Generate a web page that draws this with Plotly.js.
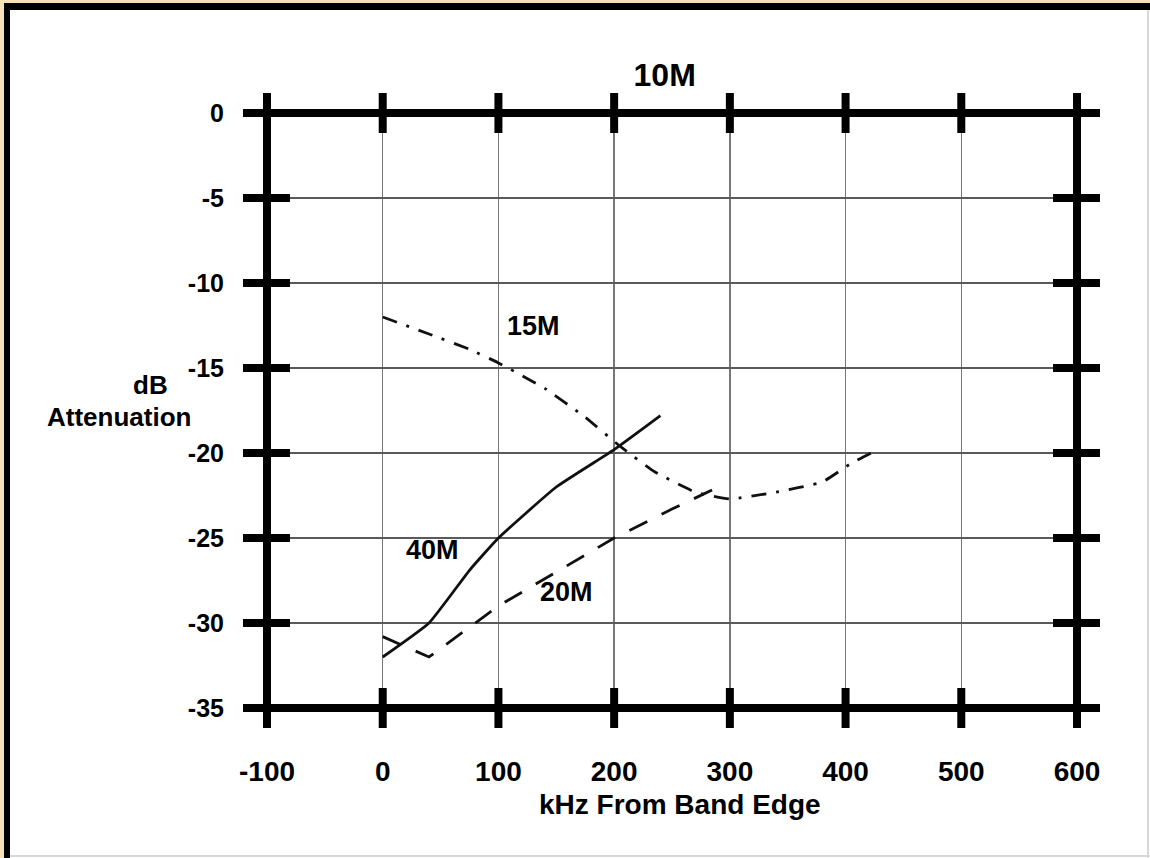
<!DOCTYPE html>
<html>
<head>
<meta charset="utf-8">
<script src="https://cdn.plot.ly/plotly-3.0.1.min.js"></script>
<style>
  html, body { margin: 0; padding: 0; background: #ffffff; }
  #wrap { position: relative; width: 1150px; height: 858px; overflow: hidden; }
  #chart { position: absolute; left: 0; top: 0; width: 1150px; height: 858px; }
  .deco { position: absolute; pointer-events: none; }
</style>
</head>
<body>
<div id="wrap">
  <div id="chart"></div>
  <div class="deco" style="left:0;top:0;width:1150px;height:3px;background:#f6e2b4;"></div>
  <div class="deco" style="left:0;top:0;width:4px;height:858px;background:#f6e2b4;"></div>
  <div class="deco" style="left:4px;top:3px;width:1146px;height:7px;background:#000;"></div>
  <div class="deco" style="left:4px;top:3px;width:6px;height:855px;background:#000;"></div>
  <div class="deco" style="left:1147px;top:10px;width:2px;height:848px;background:#d8d8d8;"></div>
  <div class="deco" style="left:10px;top:855px;width:1140px;height:2px;background:#d8d8d8;"></div>
</div>
<script>
// ---- data ----
const xTicks = [-100, 0, 100, 200, 300, 400, 500, 600];
const yTicks = [0, -5, -10, -15, -20, -25, -30, -35];
const xRange = [-100, 600];
const yRange = [-35, 0];

const x40 = [0, 40, 75, 100, 150, 200, 240];
const y40 = [-32, -30, -26.9, -25, -22, -19.8, -17.8];

const x20 = [0, 40, 100, 150, 200, 250, 287];
const y20 = [-30.8, -32, -29, -27, -25, -23.3, -22.1];

const x15 = [0, 40, 75, 100, 140, 175, 205, 235, 270, 300, 340, 380, 405, 425];
const y15 = [-12, -13, -13.9, -14.7, -16.2, -17.9, -19.6, -21.1, -22.3, -22.7, -22.3, -21.7, -20.6, -19.9];

const seriesLabels = [
  {text: '15M', x: 130, y: -12.5},
  {text: '40M', x: 43, y: -25.7},
  {text: '20M', x: 159, y: -28.2}
];

const FONT = 'Liberation Sans, Arial, sans-serif';

const traces = [
  {x: x40, y: y40, mode: 'lines', name: '40M', line: {color: '#111', width: 2.8, shape: 'spline', smoothing: 0.4}},
  {x: x20, y: y20, mode: 'lines', name: '20M', line: {color: '#111', width: 2.8, dash: '20px,16px'}},
  {x: x15, y: y15, mode: 'lines', name: '15M', line: {color: '#111', width: 2.8, dash: '15px,10px,3px,10px', shape: 'spline', smoothing: 0.4}}
];

// ---- frame & tick decorations built from the tick arrays (paper refs so they are not clipped) ----
const px = v => (v - xRange[0]) / (xRange[1] - xRange[0]);
const py = v => (v - yRange[0]) / (yRange[1] - yRange[0]);
const shapes = [];
shapes.push({type: 'rect', xref: 'paper', yref: 'paper', x0: 0, x1: 1, y0: 0, y1: 1,
  line: {color: '#000', width: 8}, fillcolor: 'rgba(0,0,0,0)'});
xTicks.forEach(v => {
  [1, 0].forEach(edge => {
    shapes.push({type: 'line', xref: 'paper', yref: 'paper', ysizemode: 'pixel', yanchor: edge,
      x0: px(v), x1: px(v), y0: -20, y1: 20, line: {color: '#000', width: 8}});
  });
});
yTicks.forEach(v => {
  [0, 1].forEach(edge => {
    shapes.push({type: 'line', xref: 'paper', yref: 'paper', xsizemode: 'pixel', xanchor: edge,
      x0: -24, x1: 23, y0: py(v), y1: py(v), line: {color: '#000', width: 8}});
  });
});

const annotations = seriesLabels.map(s => ({
  text: s.text, x: s.x, y: s.y, xref: 'x', yref: 'y', showarrow: false,
  xanchor: 'center', yanchor: 'middle',
  font: {family: FONT, size: 27, color: '#000', weight: 'bold'}
}));
annotations.push({text: 'kHz From Band Edge', xref: 'paper', yref: 'paper', x: 0.51, y: -0.163,
  xanchor: 'center', yanchor: 'middle', showarrow: false, font: {family: FONT, size: 28, color: '#000', weight: 'bold'}});
annotations.push({text: 'dB', xref: 'paper', yref: 'paper', x: -0.1444, y: 0.543,
  xanchor: 'center', yanchor: 'middle', showarrow: false, font: {family: FONT, size: 26, color: '#000', weight: 'bold'}});
annotations.push({text: 'Attenuation', xref: 'paper', yref: 'paper', x: -0.1827, y: 0.489,
  xanchor: 'center', yanchor: 'middle', showarrow: false, font: {family: FONT, size: 26, color: '#000', weight: 'bold'}});

const layout = {
  width: 1150, height: 858,
  margin: {l: 267, r: 73, t: 113, b: 150},
  paper_bgcolor: '#ffffff', plot_bgcolor: '#ffffff',
  showlegend: false,
  title: {text: '10M', x: 0.578, xanchor: 'center', y: 0.9126, yanchor: 'middle',
    font: {family: FONT, size: 32, color: '#000', weight: 'bold'}},
  xaxis: {range: xRange, tickvals: xTicks, ticktext: xTicks.map(String), showgrid: true,
    gridcolor: '#777777', gridwidth: 1.5, zeroline: false, showline: false, ticks: '',
    ticklabelstandoff: 44, tickfont: {family: FONT, size: 28, color: '#000', weight: 'bold'}, fixedrange: true},
  yaxis: {range: yRange, tickvals: yTicks, ticktext: yTicks.map(String), showgrid: true,
    gridcolor: '#5a5a5a', gridwidth: 2, zeroline: false, showline: false, ticks: '',
    ticklabelstandoff: 42, tickfont: {family: FONT, size: 25, color: '#000', weight: 'bold'}, fixedrange: true},
  shapes: shapes,
  annotations: annotations
};

Plotly.newPlot('chart', traces, layout, {displayModeBar: false, staticPlot: true});
</script>
</body>
</html>
